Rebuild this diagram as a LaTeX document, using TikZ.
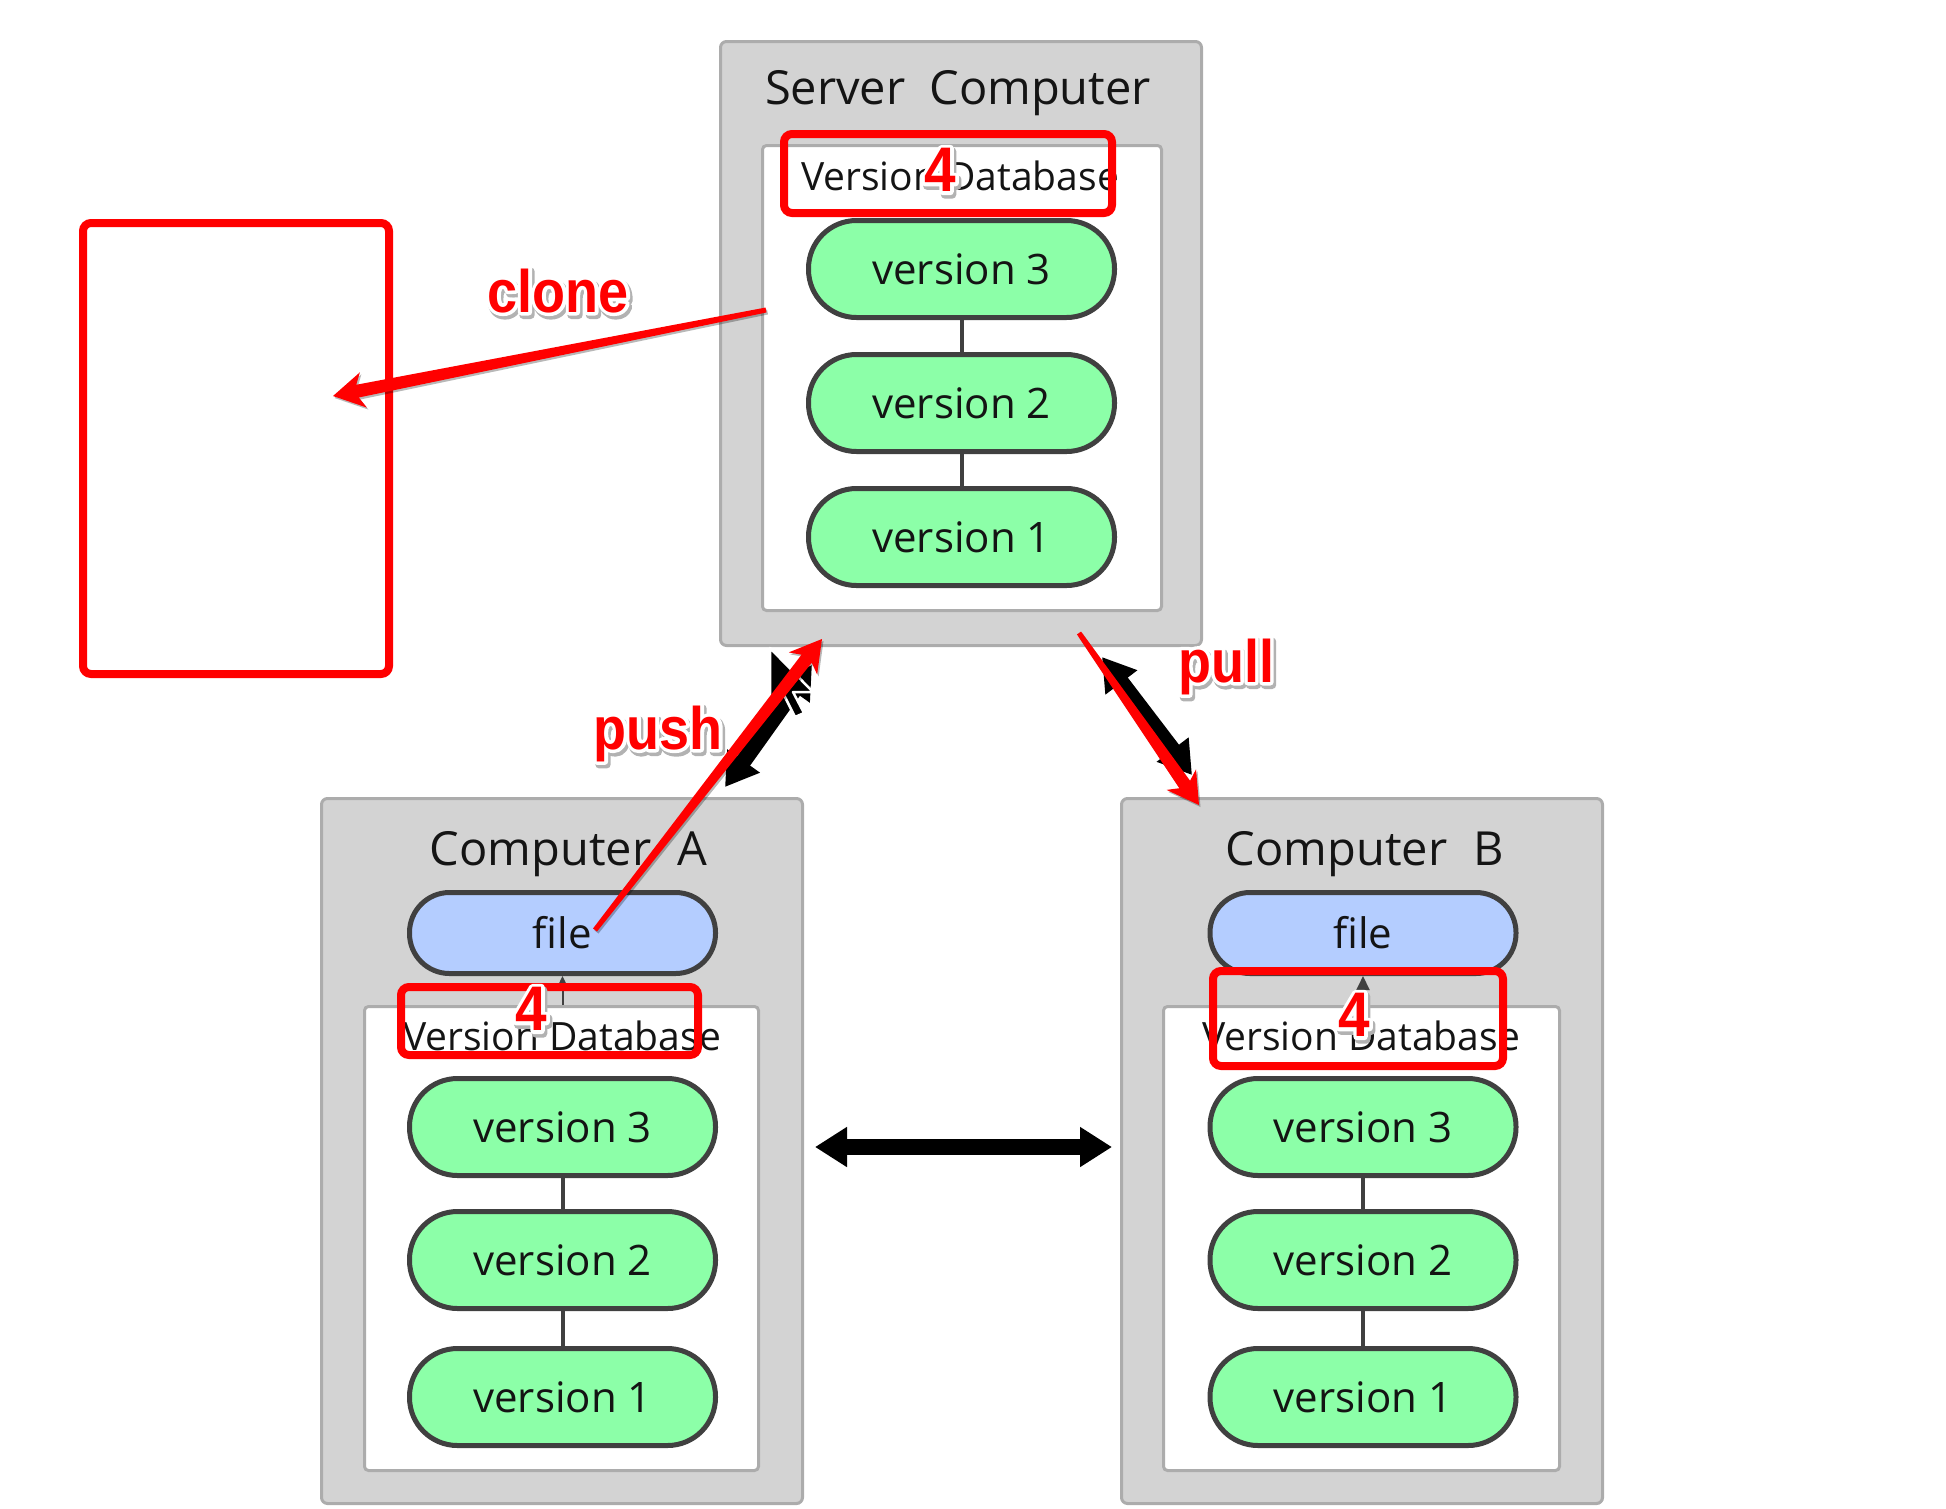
\documentclass[tikz,border=0pt]{standalone}
\usepackage{fontspec}
\setmainfont{Open Sans}
\newfontfamily\annfont[FakeStretch=0.9]{Liberation Sans}
\usetikzlibrary{calc,arrows.meta}
\definecolor{boxgray}{RGB}{211,211,211}
\definecolor{boxline}{RGB}{172,172,172}
\definecolor{pillgreen}{RGB}{140,255,168}
\definecolor{pillblue}{RGB}{180,205,255}
\definecolor{pillline}{RGB}{64,64,64}
\definecolor{txt}{RGB}{20,20,20}
\definecolor{redmark}{RGB}{255,0,0}

% outlined text: stroked copy (text render mode 1) under a filled copy
\newcommand{\strokedtext}[2]{\special{pdf:literal direct 1 Tr #1 w 1 j}#2\special{pdf:literal direct 0 Tr}}
\newcommand{\halo}[4]{%
  \node[#4, text=black!30] at ($(#2)+(2,3)$) {\strokedtext{8}{#3}};
  \node[#4, text=white] at (#2) {\strokedtext{7}{#3}};
  \node[#4, text=redmark] (#1) at (#2) {#3};
}
\newcommand{\taperarrow}[2]{%
  \coordinate (tn) at ($(#2)!25pt!(#1)$);
  \coordinate (tb) at ($(#2)!31pt!(#1)$);
  \fill[black, opacity=0.28, transform canvas={shift={(1.5,2)}}]
    ($(#1)!2.5pt!90:(#2)$) -- ($(tn)!6.5pt!-90:(#1)$) -- ($(tb)!18pt!-90:(#1)$) -- (#2)
    -- ($(tb)!18pt!90:(#1)$) -- ($(tn)!6.5pt!90:(#1)$) -- ($(#1)!2.5pt!-90:(#2)$) -- cycle;
  \fill[redmark]
    ($(#1)!2.5pt!90:(#2)$) -- ($(tn)!6.5pt!-90:(#1)$) -- ($(tb)!18pt!-90:(#1)$) -- (#2)
    -- ($(tb)!18pt!90:(#1)$) -- ($(tn)!6.5pt!90:(#1)$) -- ($(#1)!2.5pt!-90:(#2)$) -- cycle;
}

\begin{document}
\begin{tikzpicture}[x=1pt,y=-1pt,
  outerbox/.style={draw=boxline, fill=boxgray, line width=3pt, rounded corners=6pt, inner sep=0},
  innerbox/.style={draw=boxline, fill=white, line width=3pt, rounded corners=4pt, inner sep=0},
  titletext/.style={font=\fontsize{47}{47}\selectfont, text=txt, inner sep=0, anchor=base},
  dbtext/.style={font=\fontsize{39}{39}\selectfont, text=txt, inner sep=0, anchor=base},
  pill/.style={draw=pillline, line width=5pt, inner sep=0, minimum width=306pt, text=txt, font=\fontsize{42}{42}\selectfont},
  verpill/.style={pill, fill=pillgreen, minimum height=97pt, rounded corners=48pt},
  filepill/.style={pill, fill=pillblue, minimum height=81pt, rounded corners=40pt},
  conn/.style={draw=pillline, line width=4pt},
  redbox/.style={draw=redmark, line width=8pt, rounded corners=8pt, inner sep=0},
  blackarrow/.style={line width=16pt, {Triangle[length=32pt,width=38pt]}-{Triangle[length=32pt,width=38pt]}},
  smallarr/.style={draw=pillline, line width=2pt, -{Triangle[length=14pt,width=13pt]}},
  lbl/.style={font=\annfont\bfseries\fontsize{60}{60}\selectfont, inner sep=0, anchor=base},
  digit/.style={font=\annfont\bfseries\fontsize{63}{63}\selectfont, inner sep=0, anchor=center}
]
\useasboundingbox (0,0) rectangle (1946,1508);

% ---------------- Server ----------------
\node[outerbox, minimum width=481pt, minimum height=604pt] (server) at (961,343.5) {};
\node[innerbox, minimum width=399pt, minimum height=465pt] (sdb) at (962,378) {};
\node[titletext] (stitle) at (958,104) {Server\hspace{0.25em} Computer};
\node[dbtext] (sdbl) at (960,190) {Version Database};
\node[verpill] (s3) at (961.5,269) {version 3};
\node[verpill] (s2) at (961.5,403) {version 2};
\node[verpill] (s1) at (961.5,537) {version 1};
\draw[conn] (s3) -- (s2);
\draw[conn] (s2) -- (s1);

% ---------------- Computer A ----------------
\node[outerbox, minimum width=481pt, minimum height=705pt] (abox) at (562,1151) {};
\node[innerbox, minimum width=394pt, minimum height=464pt] (adb) at (561.5,1238.5) {};
\node[titletext] (atitle) at (568.5,865) {Computer\hspace{0.3em} A};
\node[filepill] (afile) at (562.5,933) {file};
\node[dbtext] (adbl) at (562,1050) {Version Database};
\node[verpill] (a3) at (562.5,1127) {version 3};
\node[verpill] (a2) at (562.5,1260) {version 2};
\node[verpill] (a1) at (562.5,1397) {version 1};
\draw[conn] (a3) -- (a2);
\draw[conn] (a2) -- (a1);
\draw[smallarr] (afile.south |- adb.north) -- (afile.south);

% ---------------- Computer B ----------------
\node[outerbox, minimum width=481pt, minimum height=705pt] (bbox) at (1362,1151) {};
\node[innerbox, minimum width=396pt, minimum height=464pt] (bdb) at (1361.5,1238.5) {};
\node[titletext] (btitle) at (1365,865) {Computer\hspace{0.3em} B};
\node[filepill] (bfile) at (1363,933) {file};
\node[dbtext] (bdbl) at (1361,1050) {Version Database};
\node[verpill] (b3) at (1363,1127) {version 3};
\node[verpill] (b2) at (1363,1260) {version 2};
\node[verpill] (b1) at (1363,1397) {version 1};
\draw[conn] (b3) -- (b2);
\draw[conn] (b2) -- (b1);
\draw[smallarr] (bfile.south |- bdb.north) -- (bfile.south);

% ---------------- red frames ----------------
\node[redbox, minimum width=306pt, minimum height=451pt] (leftrect) at (236,448.5) {};
\node[redbox, minimum width=328pt, minimum height=79pt] (sred) at (948,173.5) {};
\node[redbox, minimum width=297pt, minimum height=68pt] (ared) at (549.5,1021) {};
\node[redbox, minimum width=290pt, minimum height=95pt] (bred) at (1358,1018.5) {};

\halo{sfour}{940,170}{4}{digit}
\halo{afour}{531,1009}{4}{digit}
\halo{bfour}{1354,1015}{4}{digit}

% ---------------- black arrows ----------------
\coordinate (bkA1) at (725,787);
\coordinate (bkA2) at (812,665);
\coordinate (bkB1) at (1102,657);
\coordinate (bkB2) at (1192,775);
\coordinate (hzL) at (815,1147);
\coordinate (hzR) at (1112,1147);
\draw[blackarrow] (bkA1) -- (bkA2);
\draw[blackarrow] (bkB1) -- (bkB2);
\draw[blackarrow] (hzL) -- (hzR);

% mouse pointer
\fill[black, draw=white, line width=2.5pt, line join=round]
  (770,648) -- ++(0,61) -- ++(14,-14) -- ++(11,22) -- ++(9,-4) -- ++(-11,-21) -- ++(20,0) -- cycle;

% ---------------- red arrows ----------------
\coordinate (clonetail) at (766,310);
\coordinate (clonetip) at (333,396);
\coordinate (pushtail) at (595,930);
\coordinate (pushtip) at (822,639);
\coordinate (pulltail) at (1079,633);
\coordinate (pulltip) at (1199,805);
\taperarrow{clonetail}{clonetip}
\taperarrow{pushtail}{pushtip}
\taperarrow{pulltail}{pulltip}

\halo{clonelbl}{558,312}{clone}{lbl}
\halo{pushlbl}{658,749}{push}{lbl}
\halo{pulllbl}{1226,682}{pull}{lbl}
\end{tikzpicture}
\end{document}
